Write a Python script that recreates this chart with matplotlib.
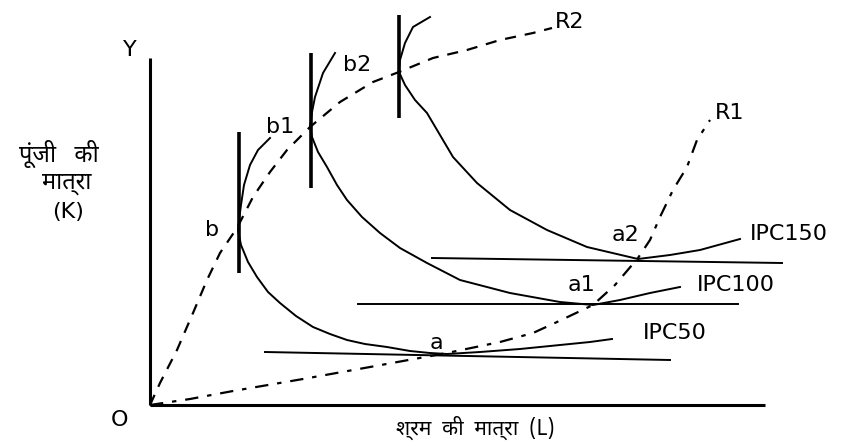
import matplotlib
matplotlib.use("Agg")
import matplotlib.pyplot as plt
import logging

logging.getLogger("matplotlib.font_manager").setLevel(logging.ERROR)

# ray R2 through b, b1, b2 (L, K)
r2_L = [0, 10, 27, 43, 57, 70, 87, 103, 120, 137, 160, 190, 223, 249, 283, 317, 350, 383, 402]
r2_K = [0, 22, 55, 92, 125, 152, 177, 208, 233, 255, 278, 303, 323, 333, 347, 355, 365, 372, 377]

# ray R1 through a, a1, a2
r1_L = [0, 40, 83, 153, 220, 297, 350, 383, 407, 443, 465, 488, 500, 510, 523, 537, 547, 560]
r1_K = [0, 6, 14, 26, 38, 52, 63, 72, 83, 100, 120, 147, 165, 188, 215, 238, 265, 285]

# isoquants
ipc50_L = [120, 108, 100, 94, 91, 89, 88, 91, 98, 107, 118, 130, 146, 163, 180, 197, 215, 237, 260, 280, 297, 330, 370, 410, 440, 462]
ipc50_K = [267, 255, 240, 220, 200, 185, 175, 160, 143, 128, 113, 102, 89, 78, 71, 65, 61, 58, 54, 52, 51, 53, 56, 60, 63, 66]
ipc100_L = [185, 173, 165, 162, 160, 162, 168, 177, 187, 197, 212, 230, 250, 277, 310, 360, 410, 443, 470, 500, 530]
ipc100_K = [352, 332, 308, 293, 278, 268, 253, 238, 220, 205, 188, 172, 157, 142, 125, 112, 103, 100, 105, 112, 118]
ipc150_L = [280, 263, 255, 250, 249, 255, 265, 277, 290, 303, 327, 360, 397, 437, 488, 520, 550, 590]
ipc150_K = [388, 378, 362, 345, 333, 320, 305, 292, 270, 248, 222, 195, 175, 158, 146, 150, 155, 166]

# tangent lines at a, a1, a2
tan_L = [[115, 520], [208, 588], [282, 632]]
tan_K = [[53, 45], [101, 101], [147, 142]]

# vertical bars at b, b1, b2
bar_L = [89, 161, 249]
bar_K0 = [132, 217, 287]
bar_K1 = [273, 352, 390]

point_labels = ["b", "b1", "b2", "a", "a1", "a2"]
point_L = [62, 130, 207, 286, 432, 476]
point_K = [175, 278, 340, 62, 120, 170]

ipc_labels = ["IPC50", "IPC100", "IPC150"]
ipc_lab_L = [493, 547, 600]
ipc_lab_K = [72, 120, 171]

fig = plt.figure(figsize=(8.54, 4.42), dpi=100)
ax = fig.add_axes([0, 0, 1, 1])
ax.set_xlim(-150, 704)
ax.set_ylim(-37, 405)
ax.axis("off")

# axes
ax.plot([0, 0], [0, 347], color="black", lw=2.2, solid_capstyle="butt")
ax.plot([0, 615], [0, 0], color="black", lw=2.2, solid_capstyle="butt")

ax.plot(r2_L, r2_K, color="black", lw=1.6, dashes=(5, 4))
ax.plot(r1_L, r1_K, color="black", lw=1.6, dashes=(6, 4, 2, 4))

for L, K in [(ipc50_L, ipc50_K), (ipc100_L, ipc100_K), (ipc150_L, ipc150_K)]:
    ax.plot(L, K, color="black", lw=1.4)

for L, K in zip(tan_L, tan_K):
    ax.plot(L, K, color="black", lw=1.4)

for L, k0, k1 in zip(bar_L, bar_K0, bar_K1):
    ax.plot([L, L], [k0, k1], color="black", lw=2.6, solid_capstyle="butt")

txt = dict(color="black", fontsize=16, family="DejaVu Sans")
ax.text(-20, 355, "Y", ha="center", va="center", **txt)
ax.text(-30, -15, "O", ha="center", va="center", **txt)
ax.text(420, 383, "R2", ha="center", va="center", **txt)
ax.text(580, 292, "R1", ha="center", va="center", **txt)
for s, L, K in zip(point_labels, point_L, point_K):
    ax.text(L, K, s, ha="center", va="center", **txt)
for s, L, K in zip(ipc_labels, ipc_lab_L, ipc_lab_K):
    ax.text(L, K, s, ha="left", va="center", **txt)

hfam = ["Noto Sans Devanagari", "Mukta", "Hind", "FreeSans", "DejaVu Sans"]
ax.text(-91, 251, "पूंजी   की", ha="center", va="center", fontsize=17, family=hfam)
ax.text(-83, 222, "मात्रा", ha="center", va="center", fontsize=17, family=hfam)
ax.text(-82, 193, "(K)", ha="center", va="center", fontsize=16, family="DejaVu Sans")
ax.text(325, -23, "श्रम  की  मात्रा  (L)", ha="center", va="center", fontsize=15, family=hfam)

fig.savefig("out.png", dpi=100)
